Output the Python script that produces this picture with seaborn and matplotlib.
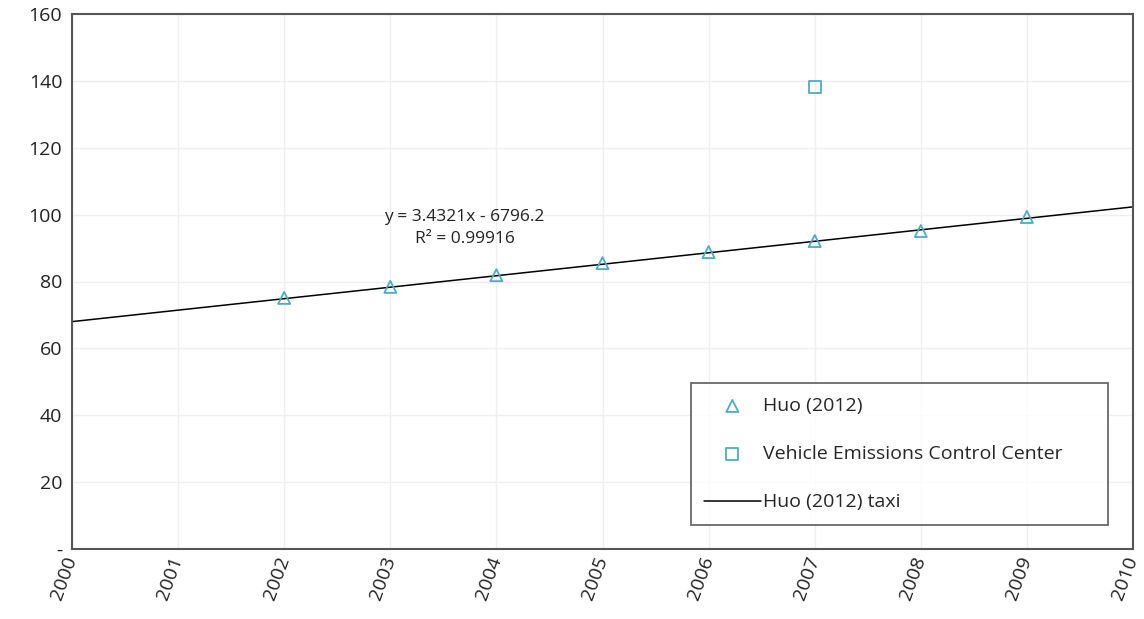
import numpy as np
import pandas as pd
import matplotlib
matplotlib.use("Agg")
import matplotlib.pyplot as plt
import seaborn as sns

# Huo (2012) series
huo_years = [2002, 2003, 2004, 2005, 2006, 2007, 2008, 2009]
huo_values = [75.1, 78.4, 81.9, 85.5, 88.8, 92.1, 95.1, 99.3]

# Vehicle Emissions Control Center
vecc_years = [2007]
vecc_values = [138.2]

# linear trendline shown on the chart (Huo (2012) taxi)
trend_slope = 3.4321
trend_intercept = -6796.2
trend_r2 = 0.99916
trend_years = [2000, 2010]

x_ticks = list(range(2000, 2011))
y_ticks = [0, 20, 40, 60, 80, 100, 120, 140, 160]
y_tick_labels = ["-", "20", "40", "60", "80", "100", "120", "140", "160"]

teal = "#4BACC6"

sns.set_style("white")
plt.rcParams["font.family"] = ["Open Sans", "DejaVu Sans"]

huo_df = pd.DataFrame({"year": huo_years, "value": huo_values})
vecc_df = pd.DataFrame({"year": vecc_years, "value": vecc_values})
trend_df = pd.DataFrame({"year": trend_years})
trend_df["value"] = trend_slope * trend_df["year"] + trend_intercept

fig = plt.figure(figsize=(11.44, 6.19), dpi=100)
ax = fig.add_axes([72 / 1144, 70 / 619, 1061 / 1144, 535 / 619])

sns.scatterplot(data=huo_df, x="year", y="value", marker="^", s=75,
                facecolor="none", edgecolor=teal, linewidth=1.3,
                label="Huo (2012)", ax=ax, zorder=3)
sns.scatterplot(data=vecc_df, x="year", y="value", marker="s", s=75,
                facecolor="none", edgecolor=teal, linewidth=1.3,
                label="Vehicle Emissions Control Center", ax=ax, zorder=3)
sns.lineplot(data=trend_df, x="year", y="value", color="black", linewidth=1.1,
             label="Huo (2012) taxi", ax=ax, zorder=2)

ax.text(2003.7, 99.3, f"y = {trend_slope}x - {abs(trend_intercept)}",
        ha="center", va="center", fontsize=12.5, color="#222222")
ax.text(2003.7, 92.6, f"R² = {trend_r2}",
        ha="center", va="center", fontsize=12.5, color="#222222")

ax.set_xlim(2000, 2010)
ax.set_ylim(0, 160)
ax.set_xticks(x_ticks)
ax.set_xticklabels([str(t) for t in x_ticks], rotation=70, fontsize=14,
                   color="#222222", ha="right", va="center",
                   rotation_mode="anchor")
ax.set_yticks(y_ticks)
ax.set_yticklabels(y_tick_labels, fontsize=14, color="#222222")
ax.tick_params(axis="y", length=0, pad=7)
ax.tick_params(axis="x", length=0, pad=6)
ax.set_xlabel("")
ax.set_ylabel("")
ax.grid(True, color="#efefef", linewidth=1)
for sp in ax.spines.values():
    sp.set_color("#555555")
    sp.set_linewidth(1.5)

leg = ax.legend(loc="lower left", bbox_to_anchor=(0.583, 0.045, 0.393, 0.258),
                mode="expand", fontsize=14, frameon=True, fancybox=False,
                handlelength=2.9, handletextpad=0.1, labelspacing=1.55,
                borderpad=0.7, borderaxespad=0)
leg.get_frame().set_edgecolor("#333333")
leg.get_frame().set_linewidth(1.2)

fig.savefig("out.png", dpi=100)
